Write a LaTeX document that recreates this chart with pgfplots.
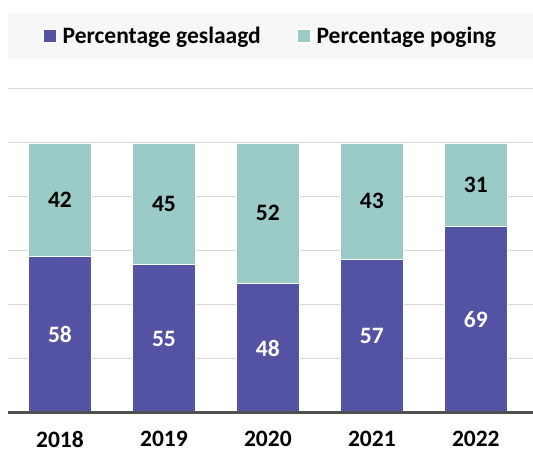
\documentclass[border=0pt]{standalone}
\usepackage{pgfplots}
\pgfplotsset{compat=1.18}
\usepackage{pgfplotstable}
\usepackage{fontspec}
\setmainfont{Carlito}
\definecolor{cpurple}{HTML}{5352A3}
\definecolor{cteal}{HTML}{9ACBC6}
\definecolor{cgrid}{HTML}{D9D9D9}
\definecolor{caxis}{HTML}{505050}
\definecolor{clegbg}{HTML}{F7F7F7}
\pgfplotstableread{
x g p
0 58 42
1 55 45
2 48 52
3 57 43
4 69 31
}\datatable
\begin{document}
\begin{tikzpicture}
\useasboundingbox (-8pt,-42pt) rectangle (525pt,413pt);
\fill[clegbg] (-0pt,354pt) rectangle (525pt,400pt);
\begin{axis}[
  scale only axis,
  clip=false,
  width=525pt, height=324pt,
  xmin=-0.5, xmax=4.55,
  ymin=0, ymax=120,
  ybar stacked,
  bar width=0.6,
  axis line style={draw=none},
  xtick=data,
  xticklabels={2018,2019,2020,2021,2022},
  ytick={20,40,60,80,100,120},
  yticklabels={},
  ymajorgrids,
  grid style={draw=cgrid, line width=1pt},
  major tick length=0pt,
  tick style={draw=none},
  /pgf/number format/assume math mode=true,
  font=\fontsize{23.5}{27}\selectfont\bfseries,
  xticklabel style={yshift=-15pt},
  legend columns=2,
  legend style={at={(axis description cs:0.5,1)}, anchor=center, yshift=53pt,
    draw=none, fill=none, font=\fontsize{23.5}{27}\selectfont\bfseries,
    /tikz/every even column/.append style={column sep=34pt}},
  legend image code/.code={\fill[#1] (0pt,-6.5pt) rectangle (13pt,6.5pt); \path (17pt,0pt);},
  nodes near coords,
  point meta=explicit,
  after end axis/.code={\draw[caxis, line width=3pt] (rel axis cs:0,0) -- (rel axis cs:1,0);},
]
\addplot[fill=cpurple, draw=white, line width=0.8pt,
  every node near coord/.append style={anchor=center, text=white}]
  table[x=x, y=g, meta=g] {\datatable};
\addlegendentry{Percentage geslaagd}
\addplot[fill=cteal, draw=white, line width=0.8pt,
  every node near coord/.append style={anchor=center, text=black}]
  table[x=x, y=p, meta=p] {\datatable};
\addlegendentry{Percentage poging}
\end{axis}
\end{tikzpicture}
\end{document}
